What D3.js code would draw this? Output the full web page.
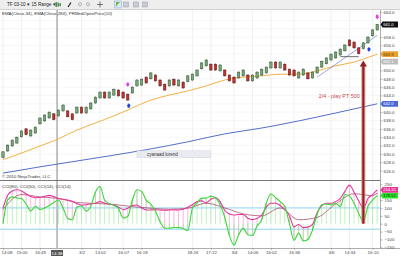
<!DOCTYPE html>
<html>
<head>
<meta charset="utf-8">
<script src="https://cdn.jsdelivr.net/npm/d3@7"></script>
<style>
  body { margin: 0; background: #fff; }
  svg { display: block; font-family: "Liberation Sans", Arial, sans-serif; }
</style>
</head>
<body>
<svg id="chart" width="400" height="258"></svg>
<script>
// range bars (15 Range)
const opens = [629.1,630.7,631.9,632.6,634.1,636.0,634.3,635.0,637.2,637.9,
  638.6,639.6,639.1,640.3,640.3,639.6,639.8,641.2,639.8,640.8,
  642.2,643.4,644.8,643.4,644.1,645.3,644.8,644.3,644.6,646.3,
  646.5,648.4,648.0,648.9,647.7,646.7,646.3,647.9,646.3,647.2,
  647.3,647.7,648.7,650.4,651.1,651.5,651.5,649.9,650.1,648.9,
  648.4,648.2,648.7,648.9,647.5,648.2,648.9,649.4,650.6,652.0,
  650.6,651.5,650.3,650.1,648.2,648.9,649.4,648.2,649.4,650.8,
  651.6,652.5,653.0,653.7,654.7,657.3,656.8,655.4,655.2,656.6,
  658.3,659.7];
const closes = [630.5,632.1,633.3,634.0,635.5,634.6,635.7,636.4,638.6,639.3,
  640.0,638.2,640.5,641.7,638.9,638.2,641.2,639.8,641.2,642.2,
  643.6,644.8,643.4,644.8,645.5,643.9,643.4,642.9,646.0,647.7,
  647.9,647.0,649.4,647.5,646.3,645.3,647.7,646.5,647.7,645.8,
  648.7,649.1,650.1,651.8,652.5,650.1,650.1,651.3,648.7,647.5,
  647.0,649.6,650.1,647.5,648.9,649.6,650.3,650.8,652.0,650.6,
  652.0,650.1,648.9,648.7,649.6,650.3,648.0,649.6,650.8,652.2,
  653.0,653.9,654.4,655.1,656.1,655.9,655.4,654.0,656.6,658.0,
  659.7,661.0];

// moving averages, read at some bars
const emaFastIdx = [0,4,8,12,16,20,24,28,32,36,40,44,48,52,56,60,64,68,72,76,80,81];
const emaFastVal = [628.6,630.2,631.9,633.6,635.7,637.4,639.1,641.0,642.9,644.1,645.1,646.3,647.7,648.4,648.7,649.1,649.1,649.9,651.1,652.0,653.5,653.9];
const emaSlowIdx = [0,8,16,24,32,40,48,56,64,72,81];
const emaSlowVal = [625.4,626.9,628.3,629.7,631.2,632.9,634.8,636.2,637.9,639.8,642.0];
const medOpen = 652.1;

// CCI panel
const cciFast = [0,150,170,163,160,125,80,110,90,100,
  115,135,150,100,34,25,105,112,80,110,
  200,236,150,127,117,96,36,45,150,215,
  205,150,125,80,13,-29,-29,-24,-25,-30,
  -45,98,130,162,162,175,165,120,40,-75,
  -136,-72,-30,-70,-75,-15,25,130,190,165,
  140,110,0,-105,-60,-110,-100,-40,60,120,
  125,119,130,108,185,175,130,65,13,110,
  150,178.52];
const cciMid = [98,180,207,215,207,190,172,165,166,174,
  180,172,160,155,150,143,128,118,120,125,
  130,140,130,124,119,105,90,98,115,119,
  100,87,87,88,87,85,87,88,87,92,
  104,120,140,145,132,155,165,140,85,62,
  55,58,58,35,26,34,55,105,130,130,
  115,90,50,-20,-5,-25,-22,-5,70,115,
  130,130,140,160,205,245,200,145,98,160,
  185,214.31];
const cciSlowIdx = [0,4,8,12,16,20,24,28,32,36,40,44,48,52,56,60,64,68,72,76,80,81];
const cciSlowVal = [90,185,170,160,135,128,122,108,98,92,98,130,100,62,50,100,25,40,125,190,178,195];
const cciLevels = [100, -35];

// ticks
const priceTicks = [626,628,630,632,634,636,638,640,642,644,646,648,650,652,654,656,658,660,662,664];
const cciTicks = [250,150,100,50,0,-50,-100,-150];
const timeIdx = [0,4,8,17,21,26,30,41,45,50,54,58,63,71,75,80];
const timeText = ["14:08","15:00","16:49","3/2","13:02","16:07","16:18","18:26","17:22","3/4","14:06","16:02","16:58","3/6","14:34","16:10"];
const cursorIdx = 11.7, cursorText = "14:38";

// signals and drawings
const sellIdx = [27, 81], sellPrice = [646.4, 662.6];
const buyIdx = [27, 79], buyPrice = [641.8, 655.3];
const trendIdx = [68, 81], trendPrice = [648.4, 658.4];
const flatIdx = [73, 77], flatPrice = [653.3, 653.3];
const arrowIdx = 78, arrowPrice = 652.4, arrowCci = 0;
const noteText = "2/4 - play PT 500", noteIdx = 77.2, notePrice = 643.4;
const boxText = "cyanaad lorend", boxIdx = [29, 45], boxPrice = 629.9;

const N = closes.length;
const svg = d3.select("#chart");
const x = d3.scaleLinear().domain([0, N - 1]).range([3, 377.2]);
const yP = d3.scaleLinear().domain([626, 664]).range([170.6, 12]);
const yC = d3.scaleLinear().domain([-150, 250]).range([247.3, 184.3]);
const axisX = 380;

// toolbar
svg.append("rect").attr("x", 0).attr("y", 0).attr("width", 400).attr("height", 9.5).attr("fill", "#eeeeee");
svg.append("line").attr("x1", 0).attr("x2", 400).attr("y1", 9.5).attr("y2", 9.5).attr("stroke", "#b8b8b8").attr("stroke-width", 0.6);
const tb = svg.append("g").attr("font-size", 4.6).attr("fill", "#222");
tb.append("text").attr("x", 7).attr("y", 6.4).text("TF 03-10 ▾");
tb.append("text").attr("x", 31.5).attr("y", 6.4).text("15 Range ▾");
[55.5, 57.5, 59.5].forEach((bx, k) => {
  tb.append("rect").attr("x", bx).attr("y", 2 + k * 0.6).attr("width", 1.3).attr("height", 5 - k).attr("fill", "#2e7d32");
});
tb.append("line").attr("x1", 68).attr("y1", 7).attr("x2", 71).attr("y2", 2.5).attr("stroke", "#222").attr("stroke-width", 1.2);
[80, 88].forEach(cx => {
  tb.append("circle").attr("cx", cx).attr("cy", 4.3).attr("r", 1.6).attr("fill", "none").attr("stroke", "#888").attr("stroke-width", 0.6);
});
tb.append("path").attr("d", "M97,4.5h6M100,1.5v6").attr("stroke", "#444").attr("stroke-width", 0.7);
tb.append("rect").attr("x", 114.5).attr("y", 1).attr("width", 7).attr("height", 7).attr("fill", "#dbe9f8").attr("stroke", "#7aa3d6").attr("stroke-width", 0.5);
tb.append("path").attr("d", "M116,7v-5h4l-2,2z").attr("fill", "#7cb82f");
[126, 136, 145].forEach(bx => {
  tb.append("rect").attr("x", bx - 2.5).attr("y", 2).attr("width", 5).attr("height", 5).attr("fill", "#c8ccd4").attr("stroke", "#8a8f99").attr("stroke-width", 0.4);
});

// grid
const grid = svg.append("g").attr("stroke-width", 0.5);
grid.selectAll("line.h").data(priceTicks).join("line")
  .attr("x1", 0).attr("x2", axisX).attr("y1", d => yP(d)).attr("y2", d => yP(d)).attr("stroke", "#efefef");
grid.selectAll("line.v").data(timeIdx).join("line")
  .attr("x1", d => x(d)).attr("x2", d => x(d)).attr("y1", 10).attr("y2", 248).attr("stroke", "#e2e2e2");

// cursor line
svg.append("line").attr("x1", x(cursorIdx)).attr("x2", x(cursorIdx)).attr("y1", 10).attr("y2", 248)
  .attr("stroke", "#9a9a9a").attr("stroke-width", 1.2);

// moving averages
const lineP = d3.line().curve(d3.curveMonotoneX);
svg.append("path").attr("d", lineP(emaSlowIdx.map((d, i) => [x(d), yP(emaSlowVal[i])])))
  .attr("fill", "none").attr("stroke", "#3f5fc0").attr("stroke-width", 0.9);
svg.append("path").attr("d", lineP(emaFastIdx.map((d, i) => [x(d), yP(emaFastVal[i])])))
  .attr("fill", "none").attr("stroke", "#f0a830").attr("stroke-width", 0.9);

// trend drawings
svg.append("line").attr("x1", x(trendIdx[0])).attr("y1", yP(trendPrice[0])).attr("x2", x(trendIdx[1])).attr("y2", yP(trendPrice[1]))
  .attr("stroke", "#6f7fe0").attr("stroke-width", 0.7);
svg.append("line").attr("x1", x(flatIdx[0])).attr("y1", yP(flatPrice[0])).attr("x2", x(flatIdx[1])).attr("y2", yP(flatPrice[1]))
  .attr("stroke", "#333").attr("stroke-width", 0.7);

// candles
const bars = svg.append("g");
bars.selectAll("line").data(closes).join("line")
  .attr("x1", (d, i) => x(i)).attr("x2", (d, i) => x(i))
  .attr("y1", (d, i) => yP(Math.max(d, opens[i])) - 0.8)
  .attr("y2", (d, i) => yP(Math.min(d, opens[i])) + 0.8)
  .attr("stroke", "#333").attr("stroke-width", 0.5);
bars.selectAll("rect").data(closes).join("rect")
  .attr("x", (d, i) => x(i) - 1.2)
  .attr("width", 2.4)
  .attr("y", (d, i) => yP(Math.max(d, opens[i])))
  .attr("height", (d, i) => Math.max(1, Math.abs(yP(d) - yP(opens[i]))))
  .attr("fill", (d, i) => d >= opens[i] ? "#78a878" : "#c43030")
  .attr("stroke", (d, i) => d >= opens[i] ? "#2f4f2f" : "#5c1616")
  .attr("stroke-width", 0.5);

// signal markers
sellIdx.forEach((d, i) => {
  const cx = x(d), cy = yP(sellPrice[i]);
  svg.append("path").attr("d", `M${cx - 1.2},${cy - 3}h2.4v2h1l-2.2,2.4l-2.2,-2.4h1z`).attr("fill", "#e040e0");
});
buyIdx.forEach((d, i) => {
  const cx = x(d) + 1, cy = yP(buyPrice[i]);
  svg.append("path").attr("d", `M${cx - 1.2},${cy + 3}h2.4v-2h1l-2.2,-2.4l-2.2,2.4h1z`).attr("fill", "#2040e0");
});

// text box annotation
svg.append("rect").attr("x", x(boxIdx[0])).attr("y", yP(boxPrice) - 3.5).attr("width", x(boxIdx[1]) - x(boxIdx[0])).attr("height", 7)
  .attr("fill", "#e9ebf0").attr("stroke", "#c8ccd6").attr("stroke-width", 0.4);
svg.append("text").attr("x", x(boxIdx[0]) + 10).attr("y", yP(boxPrice) + 1.7).attr("font-size", 4.5).attr("fill", "#333").text(boxText);

// panel labels
svg.append("text").attr("x", 2).attr("y", 15).attr("font-size", 4.4).attr("fill", "#333")
  .text("EMA(Close,34), EMA(Close,284), PRMedOpenPrice(10)");
svg.append("text").attr("x", 2).attr("y", 177.5).attr("font-size", 4.4).attr("fill", "#333").text("© 2010 NinjaTrader, LLC");

// panel separator
svg.append("line").attr("x1", 0).attr("x2", 400).attr("y1", 180.5).attr("y2", 180.5).attr("stroke", "#555").attr("stroke-width", 0.8);
svg.append("text").attr("x", 2).attr("y", 188).attr("font-size", 4.4).attr("fill", "#333").text("CCI(80), CCI(50), CCI(14), CCI(14)");

// CCI levels
svg.selectAll("line.lvl").data(cciLevels).join("line")
  .attr("x1", 0).attr("x2", axisX).attr("y1", d => yC(d)).attr("y2", d => yC(d))
  .attr("stroke", "#92d3f2").attr("stroke-width", 1);

// CCI hatch
const hatch = svg.append("g").attr("stroke-width", 0.6);
hatch.selectAll("line.p").data(cciMid).join("line")
  .attr("x1", (d, i) => x(i)).attr("x2", (d, i) => x(i))
  .attr("y1", d => yC(d)).attr("y2", (d, i) => yC(cciFast[i]))
  .attr("stroke", "#f28cc8");
hatch.selectAll("line.g").data(cciFast).join("line")
  .attr("x1", (d, i) => x(i)).attr("x2", (d, i) => x(i))
  .attr("y1", yC(0)).attr("y2", d => yC(d))
  .attr("stroke", "#94e894");

// CCI lines
const lineC = d3.line().curve(d3.curveMonotoneX);
svg.append("path").attr("d", lineC(cciSlowIdx.map((d, i) => [x(d), yC(cciSlowVal[i])])))
  .attr("fill", "none").attr("stroke", "#a03a5a").attr("stroke-width", 0.7);
svg.append("path").attr("d", lineC(cciMid.map((d, i) => [x(i), yC(d)])))
  .attr("fill", "none").attr("stroke", "#e8359a").attr("stroke-width", 1.1);
svg.append("path").attr("d", lineC(cciFast.map((d, i) => [x(i), yC(d)])))
  .attr("fill", "none").attr("stroke", "#38d838").attr("stroke-width", 1.1);

// red arrow across both panels
const ax = x(arrowIdx), ayTop = yP(arrowPrice), ayBot = yC(arrowCci);
svg.append("rect").attr("x", ax - 2).attr("y", ayTop + 5).attr("width", 4).attr("height", ayBot - ayTop - 5)
  .attr("fill", "#c98080").attr("opacity", 0.8);
svg.append("rect").attr("x", ax - 1).attr("y", ayTop + 5).attr("width", 2).attr("height", ayBot - ayTop - 5)
  .attr("fill", "#9c1c1c");
svg.append("path").attr("d", `M${ax},${ayTop}l3.6,6h-7.2z`).attr("fill", "#9c1c1c");
svg.append("text").attr("x", x(noteIdx)).attr("y", yP(notePrice)).attr("text-anchor", "end")
  .attr("font-size", 5.4).attr("fill", "#c84848").text(noteText);

// right axes
svg.append("rect").attr("x", axisX).attr("y", 10).attr("width", 20).attr("height", 238).attr("fill", "#fff");
svg.append("line").attr("x1", axisX + 0.5).attr("x2", axisX + 0.5).attr("y1", 10).attr("y2", 248).attr("stroke", "#777").attr("stroke-width", 0.6);
function styleAxis(g) {
  g.select(".domain").remove();
  g.selectAll("line").attr("stroke", "#777").attr("stroke-width", 0.5);
  g.selectAll("text").attr("font-size", 4.4).attr("fill", "#444").attr("font-family", "Liberation Sans, Arial, sans-serif");
}

// value flags on the axis
const flags = [
  { v: medOpen, y: yP(medOpen), txt: d3.format(".1f")(medOpen), fill: "#bdbdbd", color: "#fff" },
  { v: 0, y: yP(emaSlowVal[emaSlowVal.length - 1]), txt: d3.format(".1f")(emaSlowVal[emaSlowVal.length - 1]), fill: "#4668d8", color: "#fff" },
  { v: 0, y: yP(emaFastVal[emaFastVal.length - 1]), txt: d3.format(".1f")(emaFastVal[emaFastVal.length - 1]), fill: "#eaa12c", color: "#5a3a00" },
  { v: 0, y: yP(closes[N - 1]), txt: d3.format(".1f")(closes[N - 1]), fill: "#111", color: "#fff" },
  { v: 0, y: yC(cciFast[N - 1]), txt: d3.format(".2f")(cciFast[N - 1]), fill: "#2ee02e", color: "#064006" },
  { v: 0, y: yC(cciMid[N - 1]), txt: d3.format(".2f")(cciMid[N - 1]), fill: "#e8359a", color: "#fff" }
];
const covered = yy => flags.some(f => Math.abs(f.y - yy) < 4.2);

svg.append("g").attr("transform", `translate(${axisX + 0.5},0)`)
  .call(d3.axisRight(yP).tickValues(priceTicks.filter(d => !covered(yP(d)))).tickFormat(d3.format(".1f")).tickSize(2).tickPadding(1))
  .call(styleAxis);
svg.append("g").attr("transform", `translate(${axisX + 0.5},0)`)
  .call(d3.axisRight(yC).tickValues(cciTicks.filter(d => !covered(yC(d)))).tickFormat(d3.format("d")).tickSize(2).tickPadding(2))
  .call(styleAxis);

flags.forEach(f => {
  const g = svg.append("g");
  g.append("path").attr("d", `M${axisX + 0.5},${f.y}l2,-2.9h15.5v5.8h-15.5z`).attr("fill", f.fill);
  g.append("text").attr("x", axisX + 3.2).attr("y", f.y + 1.5).attr("font-size", 4.2).attr("fill", f.color).text(f.txt);
});

// time axis
svg.append("line").attr("x1", 0).attr("x2", 400).attr("y1", 248.5).attr("y2", 248.5).attr("stroke", "#777").attr("stroke-width", 0.6);
const tAxis = svg.append("g").attr("transform", "translate(0,248.5)")
  .call(d3.axisBottom(x).tickValues(timeIdx).tickFormat((d, i) => timeText[i]).tickSize(1.5).tickPadding(1))
  .call(styleAxis);
tAxis.selectAll(".tick text").filter((d, i) => i === 0).attr("text-anchor", "start").attr("x", -2);
const cx0 = x(cursorIdx);
svg.append("rect").attr("x", cx0 - 6).attr("y", 250).attr("width", 12).attr("height", 6).attr("fill", "#555");
svg.append("text").attr("x", cx0).attr("y", 254.6).attr("text-anchor", "middle").attr("font-size", 4.4).attr("fill", "#fff").text(cursorText);
</script>
</body>
</html>
